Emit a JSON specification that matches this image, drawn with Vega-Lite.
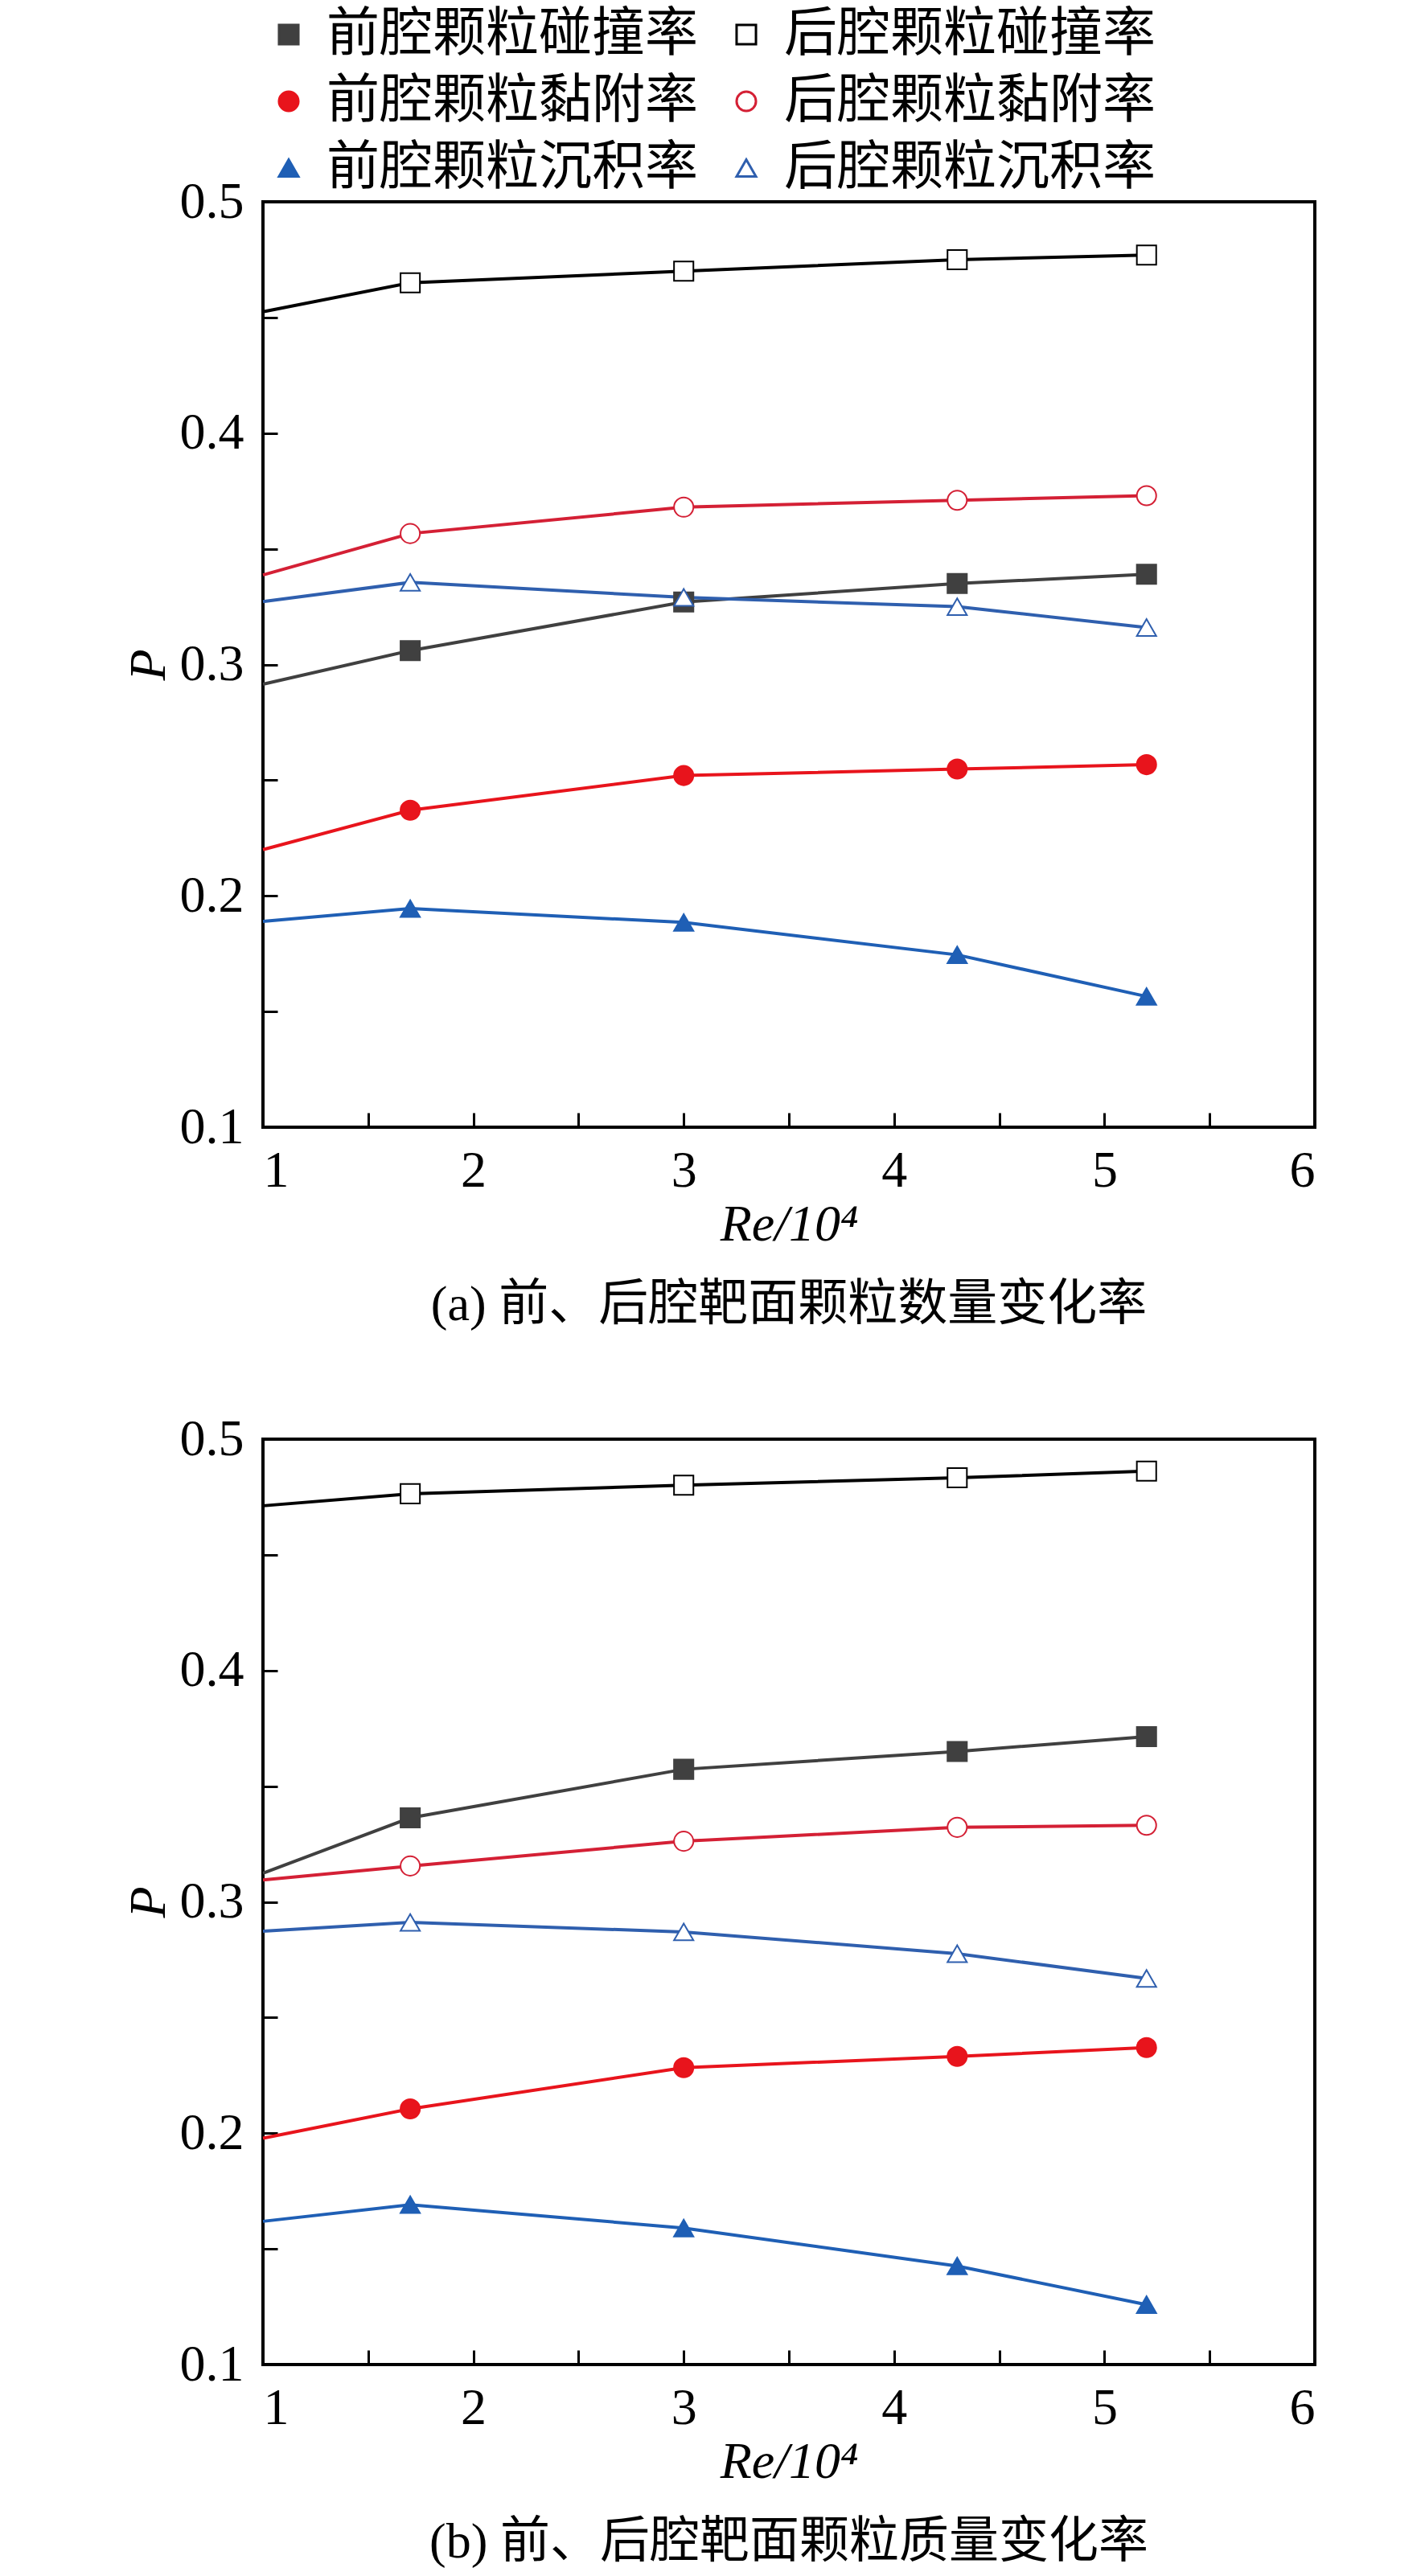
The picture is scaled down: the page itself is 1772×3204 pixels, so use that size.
{
  "$schema": "https://vega.github.io/schema/vega-lite/v6.json",
  "background": "white",
  "padding": {"left": 151, "top": 10, "right": 0, "bottom": 0},
  "datasets": {
    "a": [
      {"series": "前腔颗粒碰撞率", "x": 1, "p": 0.2915},
      {"series": "前腔颗粒碰撞率", "x": 1.7, "p": 0.306},
      {"series": "前腔颗粒碰撞率", "x": 3, "p": 0.327},
      {"series": "前腔颗粒碰撞率", "x": 4.3, "p": 0.335},
      {"series": "前腔颗粒碰撞率", "x": 5.2, "p": 0.339},
      {"series": "后腔颗粒碰撞率", "x": 1, "p": 0.4525},
      {"series": "后腔颗粒碰撞率", "x": 1.7, "p": 0.465},
      {"series": "后腔颗粒碰撞率", "x": 3, "p": 0.47},
      {"series": "后腔颗粒碰撞率", "x": 4.3, "p": 0.475},
      {"series": "后腔颗粒碰撞率", "x": 5.2, "p": 0.477},
      {"series": "前腔颗粒黏附率", "x": 1, "p": 0.22},
      {"series": "前腔颗粒黏附率", "x": 1.7, "p": 0.237},
      {"series": "前腔颗粒黏附率", "x": 3, "p": 0.252},
      {"series": "前腔颗粒黏附率", "x": 4.3, "p": 0.2548},
      {"series": "前腔颗粒黏附率", "x": 5.2, "p": 0.2567},
      {"series": "后腔颗粒黏附率", "x": 1, "p": 0.3387},
      {"series": "后腔颗粒黏附率", "x": 1.7, "p": 0.3566},
      {"series": "后腔颗粒黏附率", "x": 3, "p": 0.368},
      {"series": "后腔颗粒黏附率", "x": 4.3, "p": 0.371},
      {"series": "后腔颗粒黏附率", "x": 5.2, "p": 0.373},
      {"series": "前腔颗粒沉积率", "x": 1, "p": 0.189},
      {"series": "前腔颗粒沉积率", "x": 1.7, "p": 0.1945},
      {"series": "前腔颗粒沉积率", "x": 3, "p": 0.1885},
      {"series": "前腔颗粒沉积率", "x": 4.3, "p": 0.1745},
      {"series": "前腔颗粒沉积率", "x": 5.2, "p": 0.1565},
      {"series": "后腔颗粒沉积率", "x": 1, "p": 0.3272},
      {"series": "后腔颗粒沉积率", "x": 1.7, "p": 0.3355},
      {"series": "后腔颗粒沉积率", "x": 3, "p": 0.329},
      {"series": "后腔颗粒沉积率", "x": 4.3, "p": 0.325},
      {"series": "后腔颗粒沉积率", "x": 5.2, "p": 0.316}
    ],
    "b": [
      {"series": "前腔颗粒碰撞率", "x": 1, "p": 0.3124},
      {"series": "前腔颗粒碰撞率", "x": 1.7, "p": 0.3363},
      {"series": "前腔颗粒碰撞率", "x": 3, "p": 0.3573},
      {"series": "前腔颗粒碰撞率", "x": 4.3, "p": 0.365},
      {"series": "前腔颗粒碰撞率", "x": 5.2, "p": 0.3714},
      {"series": "后腔颗粒碰撞率", "x": 1, "p": 0.4712},
      {"series": "后腔颗粒碰撞率", "x": 1.7, "p": 0.4764},
      {"series": "后腔颗粒碰撞率", "x": 3, "p": 0.4801},
      {"series": "后腔颗粒碰撞率", "x": 4.3, "p": 0.4833},
      {"series": "后腔颗粒碰撞率", "x": 5.2, "p": 0.4862},
      {"series": "前腔颗粒黏附率", "x": 1, "p": 0.1978},
      {"series": "前腔颗粒黏附率", "x": 1.7, "p": 0.2105},
      {"series": "前腔颗粒黏附率", "x": 3, "p": 0.2283},
      {"series": "前腔颗粒黏附率", "x": 4.3, "p": 0.2332},
      {"series": "前腔颗粒黏附率", "x": 5.2, "p": 0.237},
      {"series": "后腔颗粒黏附率", "x": 1, "p": 0.3095},
      {"series": "后腔颗粒黏附率", "x": 1.7, "p": 0.3155},
      {"series": "后腔颗粒黏附率", "x": 3, "p": 0.3262},
      {"series": "后腔颗粒黏附率", "x": 4.3, "p": 0.3322},
      {"series": "后腔颗粒黏附率", "x": 5.2, "p": 0.3331},
      {"series": "前腔颗粒沉积率", "x": 1, "p": 0.1619},
      {"series": "前腔颗粒沉积率", "x": 1.7, "p": 0.1691},
      {"series": "前腔颗粒沉积率", "x": 3, "p": 0.159},
      {"series": "前腔颗粒沉积率", "x": 4.3, "p": 0.1426},
      {"series": "前腔颗粒沉积率", "x": 5.2, "p": 0.1259},
      {"series": "后腔颗粒沉积率", "x": 1, "p": 0.2873},
      {"series": "后腔颗粒沉积率", "x": 1.7, "p": 0.2911},
      {"series": "后腔颗粒沉积率", "x": 3, "p": 0.287},
      {"series": "后腔颗粒沉积率", "x": 4.3, "p": 0.2776},
      {"series": "后腔颗粒沉积率", "x": 5.2, "p": 0.2669}
    ]
  },
  "spacing": 100,
  "vconcat": [
    {
      "width": 1308,
      "height": 1151,
      "data": {"name": "a"},
      "title": {"text": "(a) 前、后腔靶面颗粒数量变化率", "orient": "bottom", "anchor": "middle", "frame": "group", "offset": 38},
      "encoding": {
        "x": {"field": "x", "type": "quantitative", "title": "Re/10⁴",
          "scale": {"domain": [1, 6], "nice": false, "zero": false},
          "axis": {"values": [1, 1.5, 2, 2.5, 3, 3.5, 4, 4.5, 5, 5.5, 6], "labelExpr": "round(datum.value * 2) % 2 == 0 ? format(datum.value, 'd') : ''", "labelPadding": 40, "titlePadding": 3}},
        "y": {"field": "p", "type": "quantitative", "title": "P",
          "scale": {"domain": [0.1, 0.5], "nice": false, "zero": false},
          "axis": {"values": [0.1, 0.15, 0.2, 0.25, 0.3, 0.35, 0.4, 0.45, 0.5], "labelExpr": "round(datum.value * 20) % 2 == 0 ? format(datum.value, '.1f') : ''", "labelPadding": 42, "minExtent": 106, "maxExtent": 106, "titlePadding": 4}},
        "color": {"field": "series", "type": "nominal", "title": null,
          "scale": {"domain": ["前腔颗粒碰撞率", "后腔颗粒碰撞率", "前腔颗粒黏附率", "后腔颗粒黏附率", "前腔颗粒沉积率", "后腔颗粒沉积率"],
            "range": ["#404040", "#000000", "#e8141c", "#d42035", "#1f5fb5", "#2f5fae"]},
          "legend": {"encode": {"symbols": {"update": {"shape": {"signal": "['M-2.3,0H-1M1,0H2.3M-1,-1H1V1H-1Z', 'M-2.3,0H-1M1,0H2.3M-1,-1H1V1H-1Z', 'M-2.3,0H-1M1,0H2.3M1,0A1,1,0,1,1,-1,0A1,1,0,1,1,1,0Z', 'M-2.3,0H-1M1,0H2.3M1,0A1,1,0,1,1,-1,0A1,1,0,1,1,1,0Z', 'M-2.3,0.25H-0.85M0.85,0.25H2.3M0,-1.15L1.2,0.95H-1.2Z', 'M-2.3,0.25H-0.85M0.85,0.25H2.3M0,-1.15L1.2,0.95H-1.2Z'][indexof(['前腔颗粒碰撞率', '后腔颗粒碰撞率', '前腔颗粒黏附率', '后腔颗粒黏附率', '前腔颗粒沉积率', '后腔颗粒沉积率'], datum.value)]"}}}}}}
      },
      "layer": [
        {"mark": {"type": "line", "strokeWidth": 4}},
        {
          "transform": [{"filter": "datum.x > 1"}],
          "mark": {"type": "point", "filled": false, "strokeWidth": 2, "opacity": 1},
          "encoding": {
            "shape": {"field": "series", "type": "nominal", "title": null,
              "scale": {"domain": ["前腔颗粒碰撞率", "后腔颗粒碰撞率", "前腔颗粒黏附率", "后腔颗粒黏附率", "前腔颗粒沉积率", "后腔颗粒沉积率"],
                "range": ["square", "square", "circle", "circle", "triangle-up", "triangle-up"]},
              "legend": {"encode": {"symbols": {"update": {"shape": {"signal": "['M-2.3,0H-1M1,0H2.3M-1,-1H1V1H-1Z', 'M-2.3,0H-1M1,0H2.3M-1,-1H1V1H-1Z', 'M-2.3,0H-1M1,0H2.3M1,0A1,1,0,1,1,-1,0A1,1,0,1,1,1,0Z', 'M-2.3,0H-1M1,0H2.3M1,0A1,1,0,1,1,-1,0A1,1,0,1,1,1,0Z', 'M-2.3,0.25H-0.85M0.85,0.25H2.3M0,-1.15L1.2,0.95H-1.2Z', 'M-2.3,0.25H-0.85M0.85,0.25H2.3M0,-1.15L1.2,0.95H-1.2Z'][indexof(['前腔颗粒碰撞率', '后腔颗粒碰撞率', '前腔颗粒黏附率', '后腔颗粒黏附率', '前腔颗粒沉积率', '后腔颗粒沉积率'], datum.value)]"}}}}}},
            "fill": {"field": "series", "type": "nominal", "title": null,
              "scale": {"domain": ["前腔颗粒碰撞率", "后腔颗粒碰撞率", "前腔颗粒黏附率", "后腔颗粒黏附率", "前腔颗粒沉积率", "后腔颗粒沉积率"],
                "range": ["#404040", "#ffffff", "#e8141c", "#ffffff", "#1f5fb5", "#ffffff"]}},
            "size": {"field": "series", "type": "nominal", "legend": null,
              "scale": {"domain": ["前腔颗粒碰撞率", "后腔颗粒碰撞率", "前腔颗粒黏附率", "后腔颗粒黏附率", "前腔颗粒沉积率", "后腔颗粒沉积率"],
                "range": [580, 580, 520, 520, 950, 950]}}
          }
        }
      ]
    },
    {
      "width": 1308,
      "height": 1151,
      "data": {"name": "b"},
      "title": {"text": "(b) 前、后腔靶面颗粒质量变化率", "orient": "bottom", "anchor": "middle", "frame": "group", "offset": 38},
      "encoding": {
        "x": {"field": "x", "type": "quantitative", "title": "Re/10⁴",
          "scale": {"domain": [1, 6], "nice": false, "zero": false},
          "axis": {"values": [1, 1.5, 2, 2.5, 3, 3.5, 4, 4.5, 5, 5.5, 6], "labelExpr": "round(datum.value * 2) % 2 == 0 ? format(datum.value, 'd') : ''", "labelPadding": 40, "titlePadding": 3}},
        "y": {"field": "p", "type": "quantitative", "title": "P",
          "scale": {"domain": [0.1, 0.5], "nice": false, "zero": false},
          "axis": {"values": [0.1, 0.15, 0.2, 0.25, 0.3, 0.35, 0.4, 0.45, 0.5], "labelExpr": "round(datum.value * 20) % 2 == 0 ? format(datum.value, '.1f') : ''", "labelPadding": 42, "minExtent": 106, "maxExtent": 106, "titlePadding": 4}},
        "color": {"field": "series", "type": "nominal", "title": null,
          "scale": {"domain": ["前腔颗粒碰撞率", "后腔颗粒碰撞率", "前腔颗粒黏附率", "后腔颗粒黏附率", "前腔颗粒沉积率", "后腔颗粒沉积率"],
            "range": ["#404040", "#000000", "#e8141c", "#d42035", "#1f5fb5", "#2f5fae"]},
          "legend": {"encode": {"symbols": {"update": {"shape": {"signal": "['M-2.3,0H-1M1,0H2.3M-1,-1H1V1H-1Z', 'M-2.3,0H-1M1,0H2.3M-1,-1H1V1H-1Z', 'M-2.3,0H-1M1,0H2.3M1,0A1,1,0,1,1,-1,0A1,1,0,1,1,1,0Z', 'M-2.3,0H-1M1,0H2.3M1,0A1,1,0,1,1,-1,0A1,1,0,1,1,1,0Z', 'M-2.3,0.25H-0.85M0.85,0.25H2.3M0,-1.15L1.2,0.95H-1.2Z', 'M-2.3,0.25H-0.85M0.85,0.25H2.3M0,-1.15L1.2,0.95H-1.2Z'][indexof(['前腔颗粒碰撞率', '后腔颗粒碰撞率', '前腔颗粒黏附率', '后腔颗粒黏附率', '前腔颗粒沉积率', '后腔颗粒沉积率'], datum.value)]"}}}}}}
      },
      "layer": [
        {"mark": {"type": "line", "strokeWidth": 4}},
        {
          "transform": [{"filter": "datum.x > 1"}],
          "mark": {"type": "point", "filled": false, "strokeWidth": 2, "opacity": 1},
          "encoding": {
            "shape": {"field": "series", "type": "nominal", "title": null,
              "scale": {"domain": ["前腔颗粒碰撞率", "后腔颗粒碰撞率", "前腔颗粒黏附率", "后腔颗粒黏附率", "前腔颗粒沉积率", "后腔颗粒沉积率"],
                "range": ["square", "square", "circle", "circle", "triangle-up", "triangle-up"]},
              "legend": {"encode": {"symbols": {"update": {"shape": {"signal": "['M-2.3,0H-1M1,0H2.3M-1,-1H1V1H-1Z', 'M-2.3,0H-1M1,0H2.3M-1,-1H1V1H-1Z', 'M-2.3,0H-1M1,0H2.3M1,0A1,1,0,1,1,-1,0A1,1,0,1,1,1,0Z', 'M-2.3,0H-1M1,0H2.3M1,0A1,1,0,1,1,-1,0A1,1,0,1,1,1,0Z', 'M-2.3,0.25H-0.85M0.85,0.25H2.3M0,-1.15L1.2,0.95H-1.2Z', 'M-2.3,0.25H-0.85M0.85,0.25H2.3M0,-1.15L1.2,0.95H-1.2Z'][indexof(['前腔颗粒碰撞率', '后腔颗粒碰撞率', '前腔颗粒黏附率', '后腔颗粒黏附率', '前腔颗粒沉积率', '后腔颗粒沉积率'], datum.value)]"}}}}}},
            "fill": {"field": "series", "type": "nominal", "title": null,
              "scale": {"domain": ["前腔颗粒碰撞率", "后腔颗粒碰撞率", "前腔颗粒黏附率", "后腔颗粒黏附率", "前腔颗粒沉积率", "后腔颗粒沉积率"],
                "range": ["#404040", "#ffffff", "#e8141c", "#ffffff", "#1f5fb5", "#ffffff"]}},
            "size": {"field": "series", "type": "nominal", "legend": null,
              "scale": {"domain": ["前腔颗粒碰撞率", "后腔颗粒碰撞率", "前腔颗粒黏附率", "后腔颗粒黏附率", "前腔颗粒沉积率", "后腔颗粒沉积率"],
                "range": [580, 580, 520, 520, 950, 950]}}
          }
        }
      ]
    }
  ],
  "config": {
    "view": {"stroke": "black", "strokeWidth": 4},
    "axis": {
      "grid": false, "domain": false,
      "tickColor": "black", "tickWidth": 3, "tickSize": -18,
      "labelFont": "Liberation Serif", "labelFontSize": 64, "labelColor": "black",
      "titleFont": "Liberation Serif", "titleFontSize": 64, "titleFontStyle": "italic", "titleFontWeight": "normal", "titleColor": "black"
    },
    "title": {"font": "Liberation Serif, Noto Sans CJK SC", "fontSize": 62, "fontWeight": "normal", "color": "black"},
    "legend": {
      "orient": "none", "legendX": -1, "legendY": -241, "columns": 2, "direction": "horizontal",
      "labelFont": "Noto Sans CJK SC", "labelFontSize": 66, "labelColor": "black", "labelLimit": 0,
      "symbolSize": 400, "symbolStrokeWidth": 3, "labelOffset": 14, "rowPadding": 17, "columnPadding": 27,
      "symbolOpacity": 1
    },
    "point": {"opacity": 1}
  },
  "resolve": {"legend": {"color": "shared"}}
}
